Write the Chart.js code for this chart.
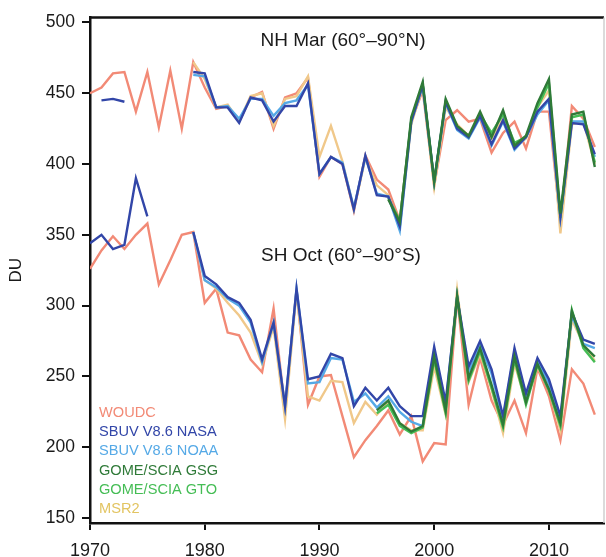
<!DOCTYPE html>
<html>
<head>
<meta charset="utf-8">
<script src="https://cdn.jsdelivr.net/npm/chart.js@4.4.0/dist/chart.umd.min.js"></script>
<style>
  html, body { margin: 0; padding: 0; background: #fff; }
  #wrap { width: 606px; height: 557px; }
</style>
</head>
<body>
<div id="wrap"><canvas id="ozone" width="606" height="557"></canvas></div>
<script>
// Years on the x axis
const years = [1970, 1971, 1972, 1973, 1974, 1975, 1976, 1977, 1978, 1979,
  1980, 1981, 1982, 1983, 1984, 1985, 1986, 1987, 1988, 1989,
  1990, 1991, 1992, 1993, 1994, 1995, 1996, 1997, 1998, 1999,
  2000, 2001, 2002, 2003, 2004, 2005, 2006, 2007, 2008, 2009,
  2010, 2011, 2012, 2013, 2014];

const yTicks = [150, 200, 250, 300, 350, 400, 450, 500];
const xTicks = [1970, 1980, 1990, 2000, 2010];

const seriesNames = ["WOUDC", "SBUV V8.6 NASA", "SBUV V8.6 NOAA", "GOME/SCIA GSG", "GOME/SCIA GTO", "MSR2"];
const seriesColors = ["#f28a76", "#3246a8", "#55a9e6", "#2f7a38", "#45bd55", "#f0c88a"];
const legendColors = ["#f28a76", "#3246a8", "#55a9e6", "#2f7a38", "#45bd55", "#e2c461"];

// NH March (60-90N)
const nhWoudc = [450, 454, 464, 465, 437, 465, 426, 466, 425, 472,
  454, 439, 441, 430, 447, 451, 425, 447, 450, 461,
  391, 405, 400, 367, 406, 389, 382, 360, 430, 452,
  385, 431, 438, 430, 432, 408, 422, 430, 411, 437,
  437, 358, 441, 432, 412];
const nhNasa = [null, 445, 446, 444, null, null, null, null, null, 465,
  464, 440, 440, 429, 447, 445, 430, 441, 441, 457,
  393, 405, 400, 368, 406, 378, 377, 356, 430, 456,
  388, 444, 425, 419, 434, 414, 431, 411, 419, 437,
  446, 363, 429, 428, 407];
const nhNoaa = [null, null, null, null, null, null, null, null, null, 463,
  462, 440, 441, 432, 446, 446, 434, 443, 445, 456,
  393, 405, 401, 369, 405, 379, 377, 353, 430, 455,
  388, 443, 424, 418, 433, 413, 430, 410, 419, 435,
  445, 362, 430, 430, 405];
const nhGsg = [null, null, null, null, null, null, null, null, null, null,
  null, null, null, null, null, null, null, null, null, null,
  null, null, null, null, null, null, 375, 359, 433, 458,
  388, 446, 427, 420, 437, 419, 438, 413, 420, 443,
  460, 365, 435, 437, 398];
const nhGto = [null, null, null, null, null, null, null, null, null, null,
  null, null, null, null, null, null, null, null, null, null,
  null, null, null, null, null, null, 376, 360, 431, 456,
  387, 444, 426, 419, 435, 422, 435, 415, 419, 440,
  457, 362, 433, 435, 401];
const nhMsr2 = [null, null, null, null, null, null, null, null, null, 472,
  460, 440, 442, 430, 448, 450, 427, 446, 448, 462,
  405, 427, 402, 368, 404, 385, 378, 355, 428, 455,
  384, 440, 428, 420, 434, 418, 432, 412, 418, 440,
  452, 351, 428, 430, 400];

// SH October (60-90S)
const shWoudc = [326, 339, 349, 340, 350, 358, 315, 332, 350, 352,
  302, 312, 281, 279, 262, 253, 298, 227, 311, 230,
  250, 251, 222, 193, 205, 215, 226, 209, 222, 190,
  203, 202, 306, 230, 263, 233, 216, 233, 210, 256,
  236, 205, 255, 245, 223];
const shNasa = [344, 350, 340, 343, 390, 363, null, null, null, 352,
  321, 315, 306, 302, 290, 262, 288, 229, 312, 248,
  250, 266, 263, 229, 242, 233, 242, 229, 222, 222,
  271, 232, 306, 257, 275, 255, 222, 270, 238, 263,
  248, 222, 295, 276, 273];
const shNoaa = [null, null, null, null, null, null, null, null, null, 352,
  318, 313, 305, 300, 288, 260, 288, 229, 312, 245,
  246, 263, 262, 232, 238, 228, 236, 225, 218, 215,
  268, 230, 306, 253, 272, 252, 220, 268, 236, 261,
  245, 220, 293, 273, 270];
const shGsg = [null, null, null, null, null, null, null, null, null, null,
  null, null, null, null, null, null, null, null, null, null,
  null, null, null, null, null, 226, 233, 217, 211, 215,
  264, 226, 307, 249, 270, 244, 216, 264, 232, 259,
  241, 217, 296, 272, 264];
const shGto = [null, null, null, null, null, null, null, null, null, null,
  null, null, null, null, null, null, null, null, null, null,
  null, null, null, null, null, 224, 230, 215, 210, 214,
  262, 224, 306, 247, 268, 242, 214, 262, 230, 258,
  240, 215, 297, 270, 260];
const shMsr2 = [null, null, null, null, null, null, null, null, null, 352,
  318, 312, 302, 293, 281, 259, 285, 220, 310, 236,
  233, 247, 246, 217, 232, 223, 232, 217, 212, 212,
  257, 223, 311, 246, 266, 241, 210, 259, 232, 257,
  241, 212, 290, 273, 261];

const nhSeries = [nhWoudc, nhNasa, nhNoaa, nhGsg, nhGto, nhMsr2];
const shSeries = [shWoudc, shNasa, shNoaa, shGsg, shGto, shMsr2];
// lower = drawn on top
const drawOrder = [6, 2, 4, 1, 3, 5];

const toPoints = vals => vals.map((v, i) => ({ x: years[i], y: v }));

const datasets = [];
[nhSeries, shSeries].forEach(group => {
  group.forEach((vals, k) => {
    datasets.push({
      label: seriesNames[k],
      data: toPoints(vals),
      borderColor: seriesColors[k],
      borderWidth: 2.4,
      pointRadius: 0,
      tension: 0,
      spanGaps: false,
      order: drawOrder[k]
    });
  });
});

const FONT = "'Liberation Sans', Arial, sans-serif";

// region labels, legend text and the top/right frame
const extras = {
  id: "extras",
  afterDraw(chart) {
    const { ctx, chartArea: a } = chart;
    ctx.save();
    ctx.strokeStyle = "#111";
    ctx.lineWidth = 2.5;
    ctx.beginPath();
    ctx.moveTo(a.left, a.top);
    ctx.lineTo(a.right, a.top);
    ctx.stroke();
    ctx.strokeStyle = "#cfcfcf";
    ctx.lineWidth = 1.5;
    ctx.beginPath();
    ctx.moveTo(a.right, a.top);
    ctx.lineTo(a.right, a.bottom);
    ctx.stroke();

    ctx.fillStyle = "#1a1a1a";
    ctx.font = "19px " + FONT;
    ctx.textAlign = "center";
    ctx.textBaseline = "middle";
    ctx.fillText("NH Mar (60°–90°N)", 343, 41);
    ctx.fillText("SH Oct (60°–90°S)", 341, 256);

    ctx.font = "14.6px " + FONT;
    ctx.textAlign = "left";
    seriesNames.forEach((name, k) => {
      ctx.fillStyle = legendColors[k];
      ctx.fillText(name, 99, 413 + k * 19.2);
    });
    ctx.restore();
  }
};

new Chart(document.getElementById("ozone"), {
  type: "line",
  data: { datasets },
  options: {
    responsive: false,
    animation: false,
    layout: { padding: { top: 17, right: 2, left: 0, bottom: 0 } },
    plugins: {
      legend: { display: false },
      tooltip: { enabled: false }
    },
    scales: {
      x: {
        type: "linear",
        min: 1970,
        max: 2014.8,
        afterBuildTicks: s => { s.ticks = xTicks.map(v => ({ value: v })); },
        afterFit: s => { s.height = 34; },
        border: { display: true, color: "#111", width: 2.5 },
        grid: { drawOnChartArea: false, drawTicks: true, tickLength: 7, color: "#111", lineWidth: 2 },
        ticks: {
          color: "#1a1a1a",
          padding: 10,
          maxRotation: 0,
          font: { family: FONT, size: 18 },
          callback: v => String(v)
        }
      },
      y: {
        min: 146.5,
        max: 503.5,
        afterBuildTicks: s => { s.ticks = yTicks.map(v => ({ value: v })); },
        afterFit: s => { s.width = 90; },
        border: { display: true, color: "#111", width: 2.5 },
        grid: { drawOnChartArea: false, drawTicks: true, tickLength: 8, color: "#111", lineWidth: 2 },
        title: {
          display: true,
          text: "DU",
          color: "#1a1a1a",
          padding: { top: 6, bottom: 8 },
          font: { family: FONT, size: 17 }
        },
        ticks: {
          color: "#1a1a1a",
          padding: 7,
          font: { family: FONT, size: 17.5 }
        }
      }
    }
  },
  plugins: [extras]
});
</script>
</body>
</html>
